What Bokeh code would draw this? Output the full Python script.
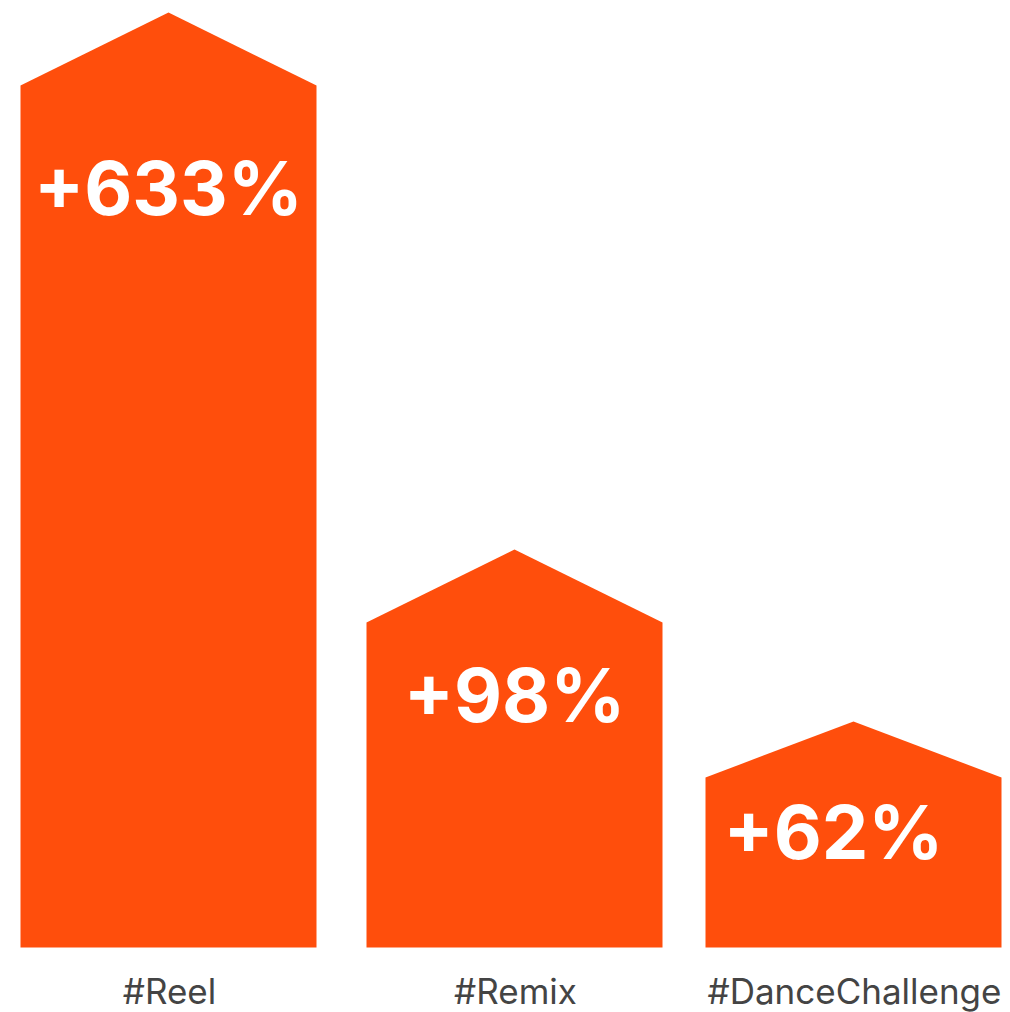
from bokeh.plotting import figure
from bokeh.models import Range1d, ColumnDataSource
from bokeh.core.properties import value
from bokeh.embed import file_html
from bokeh.resources import INLINE

# Data
categories = ["#Reel", "#Remix", "#DanceChallenge"]
growth_pct = [633, 98, 62]
bar_heights = [862, 325, 170]   # body height (chart units)
roof_heights = [73, 73, 56]     # roof peak above body

# Layout/style
centers = [168, 514, 853]
bar_width = 296
label_mid = [760, 253, 116]
label_x_shift = [0, 0, -20]
color = "#FF4E0C"

xs, ys = [], []
for c, h, r in zip(centers, bar_heights, roof_heights):
    l, rt = c - bar_width / 2, c + bar_width / 2
    xs.append([l, rt, rt, c, l])
    ys.append([0, 0, h, h + r, h])

p = figure(width=1010, height=1012, output_backend="svg", toolbar_location=None,
           x_range=Range1d(0, 1010), y_range=Range1d(-65, 947),
           min_border=0, outline_line_color=None)
p.axis.visible = False
p.grid.visible = False

p.patches(xs, ys, fill_color=color, line_color=None)

lab = ColumnDataSource(dict(
    x=[c + s for c, s in zip(centers, label_x_shift)],
    y=label_mid,
    t=["+%d%%" % v for v in growth_pct]))
p.text("x", "y", text="t", source=lab, text_align="center", text_baseline="middle",
       text_color="white", text_font=value("Inter"), text_font_style="bold",
       text_font_size="74px")

cat = ColumnDataSource(dict(x=[c + 1 for c in centers], y=[-43] * 3, t=categories))
p.text("x", "y", text="t", source=cat, text_align="center", text_baseline="middle",
       text_color="#444444", text_font=value("Inter"), text_font_size="35px")

open("out.html", "w").write(file_html(p, INLINE))
